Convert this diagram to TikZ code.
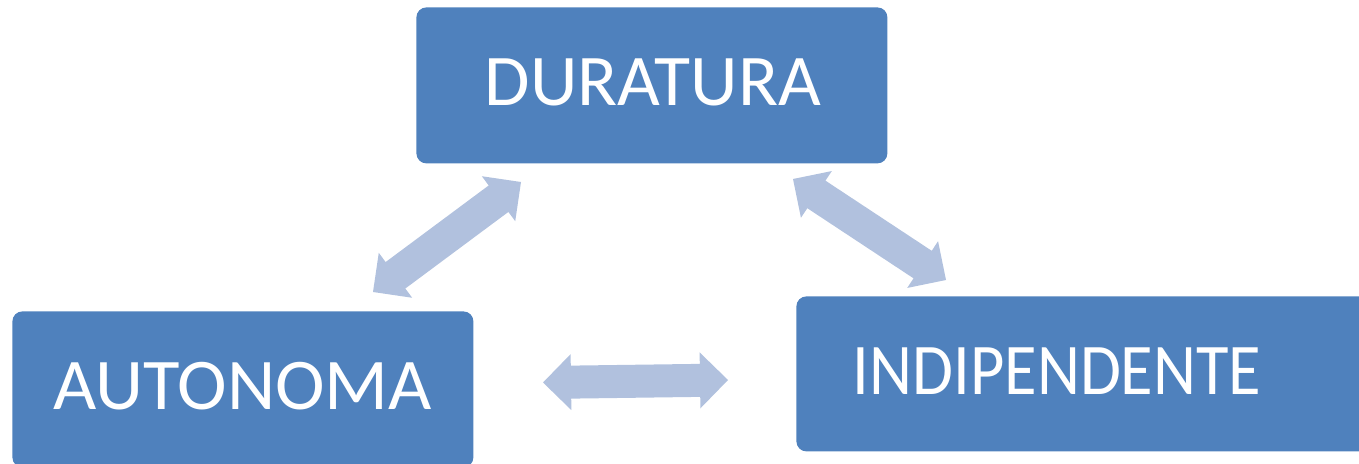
\documentclass[tikz,border=0pt]{standalone}
\usepackage{fontspec}
\usepackage{graphicx}
\setmainfont{Carlito}
\usetikzlibrary{calc}
\definecolor{boxblue}{HTML}{4F81BD}
\definecolor{arrowblue}{HTML}{B1C1DE}
\newcommand{\arrhead}{14pt}
\newcommand{\headhalf}{14pt}
\newcommand{\shafthalf}{8.25pt}
\newcommand{\dblblockarrow}[2]{%
  \coordinate (h1) at ($(#1)!\arrhead!(#2)$);
  \coordinate (h2) at ($(#2)!\arrhead!(#1)$);
  \fill[arrowfill] (#1) -- ($(h1)!\headhalf!90:(#2)$) -- ($(h1)!\shafthalf!90:(#2)$)
    -- ($(h2)!\shafthalf!-90:(#1)$) -- ($(h2)!\headhalf!-90:(#1)$) -- (#2)
    -- ($(h2)!\headhalf!90:(#1)$) -- ($(h2)!\shafthalf!90:(#1)$)
    -- ($(h1)!\shafthalf!-90:(#2)$) -- ($(h1)!\headhalf!-90:(#2)$) -- cycle;}
\tikzset{
  boxnode/.style={fill=boxblue, rounded corners=5pt, draw=none, inner sep=0pt, anchor=north west},
  labelnode/.style={text=white, anchor=base, inner sep=0pt, font=\fontsize{36.4pt}{40pt}\selectfont},
  arrowfill/.style={fill=arrowblue}
}
\begin{document}
\begin{tikzpicture}[x=0.5pt,y=-0.5pt]
\useasboundingbox (0,0) rectangle (1359,464);
\clip (0,0) rectangle (1359,464);
% boxes
\node[boxnode, minimum width=235.5pt, minimum height=78pt] (dur) at (416,7) {};
\node[boxnode, minimum width=230.5pt, minimum height=78pt] (aut) at (12,311) {};
\node[boxnode, minimum width=300pt, minimum height=77.5pt] (ind) at (796,296) {};
% labels
\node[labelnode] (durl) at (653,106) {\scalebox{1.015}[1]{DURATURA}};
\node[labelnode] (autl) at (242.5,409) {\scalebox{1.027}[1]{AUTONOMA}};
\node[labelnode] (indl) at (1057,394) {\scalebox{0.914}[1]{INDIPENDENTE}};
% arrow tips
\coordinate (a1) at (373,292);
\coordinate (a2) at (521,182);
\coordinate (b1) at (793,179);
\coordinate (b2) at (946,280);
\coordinate (c1) at (543,382.5);
\coordinate (c2) at (728,380);
\dblblockarrow{a1}{a2}
\dblblockarrow{b1}{b2}
\dblblockarrow{c1}{c2}
\end{tikzpicture}
\end{document}
